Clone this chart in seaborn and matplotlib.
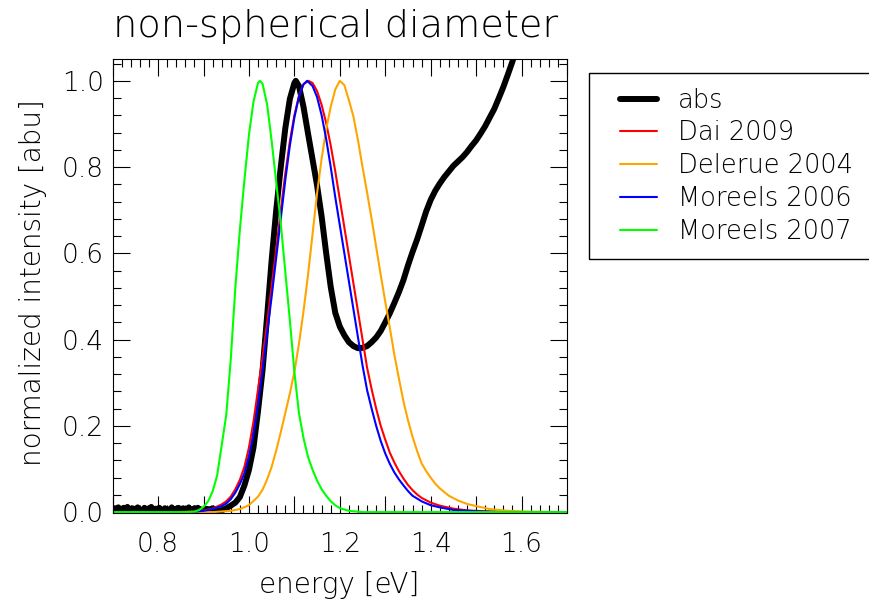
import numpy as np
import pandas as pd
import matplotlib
matplotlib.use("Agg")
import matplotlib.pyplot as plt
import seaborn as sns
from matplotlib.ticker import MultipleLocator, FuncFormatter, FormatStrFormatter
from matplotlib.patches import Rectangle

# ---------------- data ----------------
# measured absorption: noisy baseline then the spectrum
abs_noise = [0.005, 0.000, 0.009, -0.004, 0.006, 0.011, 0.001, -0.005, 0.008, 0.002,
             0.010, -0.003, 0.005, 0.012, -0.001, 0.006, -0.005, 0.009, 0.001, 0.008,
             -0.004, 0.004, 0.011, -0.002, 0.006, 0.002, -0.006, 0.007, 0.010, 0.000,
             0.005, -0.004, 0.009, 0.002, 0.012, -0.003, 0.006, 0.001, 0.008, -0.005,
             0.004, 0.010, -0.001, 0.006, -0.004, 0.003, 0.009, -0.002, 0.007, 0.001,
             -0.006, 0.006, 0.011, 0.000, 0.005, -0.003, 0.008, 0.002, 0.010, -0.004,
             0.006, 0.000, 0.009, -0.005, 0.004, 0.007, -0.002, 0.011, 0.001, -0.004,
             0.006, 0.002, 0.009, -0.003, 0.004, 0.010, 0.000, 0.007, -0.005, 0.003,
             0.006, -0.002, 0.008, 0.001, -0.004, 0.007, 0.004, 0.000, 0.009, -0.002,
             0.006, 0.002, 0.007, 0.003, 0.004]
abs_curve_e = [0.94, 0.95, 0.96, 0.97, 0.98, 0.99, 1.00, 1.01, 1.02, 1.03, 1.04, 1.05,
               1.06, 1.07, 1.08, 1.09, 1.10, 1.103, 1.11, 1.12, 1.13, 1.14, 1.15, 1.16,
               1.17, 1.18, 1.19, 1.20, 1.21, 1.22, 1.23, 1.24, 1.25, 1.26, 1.27, 1.28,
               1.29, 1.30, 1.31, 1.32, 1.33, 1.34, 1.35, 1.36, 1.37, 1.38, 1.39, 1.40,
               1.41, 1.42, 1.43, 1.44, 1.45, 1.46, 1.47, 1.48, 1.49, 1.50, 1.51, 1.52,
               1.53, 1.54, 1.55, 1.56, 1.57, 1.58, 1.59, 1.60]
abs_curve_i = [0.004, 0.009, 0.015, 0.022, 0.035, 0.062, 0.098, 0.150, 0.235, 0.330,
               0.455, 0.585, 0.700, 0.800, 0.890, 0.958, 0.995, 1.000, 0.988, 0.940,
               0.878, 0.818, 0.757, 0.685, 0.600, 0.522, 0.462, 0.430, 0.410, 0.394,
               0.385, 0.380, 0.381, 0.385, 0.394, 0.405, 0.420, 0.440, 0.461, 0.485,
               0.510, 0.538, 0.572, 0.603, 0.632, 0.664, 0.697, 0.724, 0.745, 0.762,
               0.777, 0.790, 0.803, 0.813, 0.823, 0.835, 0.849, 0.862, 0.878, 0.895,
               0.915, 0.935, 0.960, 0.986, 1.015, 1.045, 1.080, 1.110]

dai_e = [0.70, 0.84, 0.86, 0.88, 0.90, 0.92, 0.94, 0.95, 0.96, 0.97, 0.98, 0.99, 1.00,
         1.01, 1.02, 1.03, 1.04, 1.05, 1.06, 1.07, 1.08, 1.09, 1.10, 1.11, 1.12, 1.131,
         1.14, 1.15, 1.16, 1.17, 1.18, 1.19, 1.20, 1.21, 1.22, 1.23, 1.24, 1.25, 1.26,
         1.27, 1.28, 1.29, 1.30, 1.31, 1.32, 1.33, 1.34, 1.35, 1.36, 1.37, 1.38, 1.40,
         1.42, 1.45, 1.48, 1.52, 1.58, 1.70]
dai_i = [0.0, 0.0, 0.001, 0.002, 0.004, 0.008, 0.018, 0.025, 0.036, 0.053, 0.075, 0.105,
         0.150, 0.210, 0.285, 0.360, 0.440, 0.525, 0.610, 0.700, 0.785, 0.860, 0.920,
         0.965, 0.992, 1.0, 0.995, 0.976, 0.944, 0.902, 0.850, 0.790, 0.725, 0.660,
         0.595, 0.530, 0.465, 0.400, 0.335, 0.285, 0.240, 0.200, 0.168, 0.138, 0.115,
         0.095, 0.078, 0.063, 0.051, 0.041, 0.033, 0.022, 0.015, 0.008, 0.004, 0.002,
         0.0, 0.0]

delerue_e = [0.70, 0.92, 0.96, 0.98, 1.00, 1.02, 1.03, 1.04, 1.05, 1.06, 1.07, 1.08,
             1.09, 1.10, 1.11, 1.12, 1.13, 1.14, 1.15, 1.16, 1.17, 1.18, 1.19, 1.20,
             1.21, 1.22, 1.23, 1.24, 1.25, 1.26, 1.27, 1.28, 1.29, 1.30, 1.31, 1.32,
             1.33, 1.34, 1.35, 1.36, 1.37, 1.38, 1.39, 1.40, 1.41, 1.42, 1.44, 1.46,
             1.48, 1.50, 1.53, 1.57, 1.62, 1.70]
delerue_i = [0.0, 0.0, 0.003, 0.007, 0.016, 0.036, 0.052, 0.076, 0.105, 0.143, 0.185,
             0.230, 0.275, 0.325, 0.390, 0.465, 0.550, 0.645, 0.740, 0.820, 0.888,
             0.940, 0.980, 1.0, 0.990, 0.955, 0.917, 0.862, 0.800, 0.741, 0.680, 0.615,
             0.550, 0.488, 0.428, 0.365, 0.310, 0.257, 0.213, 0.175, 0.142, 0.113,
             0.095, 0.080, 0.066, 0.055, 0.038, 0.027, 0.019, 0.014, 0.007, 0.003,
             0.001, 0.0]

moreels06_e = [0.70, 0.86, 0.88, 0.90, 0.92, 0.94, 0.95, 0.96, 0.97, 0.98, 0.99, 1.00,
               1.01, 1.02, 1.03, 1.04, 1.05, 1.06, 1.07, 1.08, 1.09, 1.10, 1.11, 1.12,
               1.128, 1.14, 1.15, 1.16, 1.17, 1.18, 1.19, 1.20, 1.21, 1.22, 1.23, 1.24,
               1.25, 1.26, 1.27, 1.28, 1.29, 1.30, 1.31, 1.32, 1.33, 1.34, 1.35, 1.36,
               1.38, 1.40, 1.42, 1.45, 1.50, 1.55, 1.70]
moreels06_i = [0.0, 0.0, 0.001, 0.003, 0.007, 0.014, 0.020, 0.030, 0.045, 0.065, 0.090,
               0.130, 0.180, 0.250, 0.330, 0.415, 0.500, 0.590, 0.680, 0.770, 0.850,
               0.915, 0.963, 0.992, 1.0, 0.988, 0.962, 0.920, 0.865, 0.800, 0.730,
               0.665, 0.600, 0.535, 0.470, 0.405, 0.340, 0.283, 0.240, 0.200, 0.165,
               0.136, 0.112, 0.092, 0.076, 0.062, 0.049, 0.038, 0.025, 0.016, 0.011,
               0.005, 0.002, 0.0, 0.0]

moreels07_e = [0.70, 0.86, 0.88, 0.89, 0.90, 0.91, 0.92, 0.93, 0.94, 0.95, 0.96, 0.97,
               0.98, 0.99, 1.00, 1.01, 1.02, 1.024, 1.03, 1.04, 1.05, 1.06, 1.07, 1.08,
               1.09, 1.10, 1.11, 1.12, 1.13, 1.14, 1.15, 1.16, 1.17, 1.18, 1.19, 1.20,
               1.22, 1.25, 1.70]
moreels07_i = [0.0, 0.0, 0.001, 0.005, 0.012, 0.025, 0.048, 0.085, 0.155, 0.225, 0.355,
               0.520, 0.655, 0.770, 0.875, 0.952, 0.995, 1.0, 0.993, 0.945, 0.860,
               0.765, 0.670, 0.557, 0.445, 0.325, 0.230, 0.172, 0.128, 0.098, 0.073,
               0.053, 0.038, 0.025, 0.016, 0.009, 0.003, 0.0, 0.0]

labels = ["abs", "Dai 2009", "Delerue 2004", "Moreels 2006", "Moreels 2007"]
colors = ["black", "#ff0000", "#ffa500", "#0000ff", "#00ff00"]

# ---------------- plotting ----------------
sns.set_style("white")
plt.rcParams["font.family"] = ["DejaVu Sans"]
plt.rcParams["font.weight"] = "light"
plt.rcParams["text.color"] = "black"
plt.rcParams["axes.labelcolor"] = "black"
plt.rcParams["xtick.color"] = "black"
plt.rcParams["ytick.color"] = "black"
plt.rcParams["axes.edgecolor"] = "black"

fig = plt.figure(figsize=(8.7, 6.03), dpi=100)
ax = fig.add_axes([0.1295, 0.1493, 0.5222, 0.7524])

abs_e = list(np.linspace(0.70, 0.935, len(abs_noise))) + abs_curve_e
abs_i = abs_noise + abs_curve_i

series = [(abs_e, abs_i), (dai_e, dai_i), (delerue_e, delerue_i),
          (moreels06_e, moreels06_i), (moreels07_e, moreels07_i)]
widths = [4.3, 1.5, 1.5, 1.5, 1.5]
for (e, i), lab, c, w in zip(series, labels, colors, widths):
    sns.lineplot(x=e, y=i, ax=ax, color=c, linewidth=w, label=lab, legend=False)

ax.set_xlim(0.7, 1.7)
ax.set_ylim(-0.002, 1.05)

ax.xaxis.set_major_locator(MultipleLocator(0.1))
ax.xaxis.set_minor_locator(MultipleLocator(0.02))
ax.xaxis.set_major_formatter(FuncFormatter(
    lambda v, p: f"{v:.1f}" if int(round(v * 10)) % 2 == 0 else ""))
ax.yaxis.set_major_locator(MultipleLocator(0.2))
ax.yaxis.set_minor_locator(MultipleLocator(0.04))
ax.yaxis.set_major_formatter(FormatStrFormatter("%.1f"))

ax.tick_params(which="both", direction="in", top=True, right=True,
               bottom=True, left=True, color="black", labelcolor="black", width=0.8)
ax.tick_params(which="major", length=12.5, labelsize=19)
ax.tick_params(which="minor", length=6)
ax.tick_params(axis="x", which="major", pad=14)
ax.tick_params(axis="y", which="major", pad=6.5)
for s in ax.spines.values():
    s.set_color("black")
    s.set_linewidth(0.8)

ax.set_xlabel("")
ax.set_ylabel("")

fig.text(113 / 870, 1 - 37.5 / 603, "non-spherical diameter", fontsize=27.5,
         ha="left", va="baseline", color="black")
fig.text(0.3897, 1 - 593 / 603, "energy [eV]", fontsize=20,
         ha="center", va="baseline", color="black")
fig.text(33 / 870, 0.532, "normalized intensity [abu]", fontsize=20,
         rotation=90, ha="center", va="center", color="black")

# legend box (extends past the right edge like the reference)
fig.patches.append(Rectangle((589 / 870, 1 - 259 / 603), 0.4, (259 - 72.7) / 603,
                             transform=fig.transFigure, fill=False,
                             edgecolor="black", linewidth=1.0, clip_on=False))
handles, labs = ax.get_legend_handles_labels()
leg = ax.legend(handles, labs, loc="upper left",
                bbox_to_anchor=(620 / 870, 1 - 87.5 / 603),
                bbox_transform=fig.transFigure, frameon=False, fontsize=18.5,
                handlelength=1.44, handletextpad=0.80, labelspacing=0.31,
                borderpad=0, borderaxespad=0, labelcolor="black")

fig.savefig("out.png", dpi=100)
